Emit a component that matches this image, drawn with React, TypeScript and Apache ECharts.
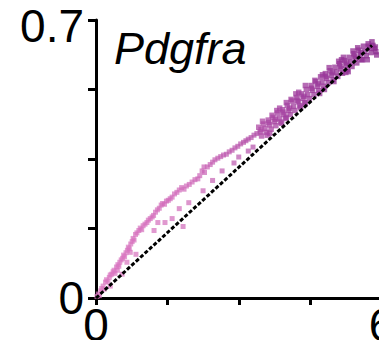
import React, { useEffect, useRef } from "react";
import * as echarts from "echarts";

const title = "Pdgfra";
const xTicks = [0, 6];
const yTicks = [0, 0.7];
const refLine: [number, number][] = [[0, 0], [5.8, 0.636]];

const pinkPoints: [number, number][] = [
  [0.02,0.004],[0.05,0.01],[0.07,0.006],[0.1,0.018],[0.12,0.024],[0.15,0.03],[0.17,0.022],[0.2,0.04],
  [0.22,0.046],[0.25,0.042],[0.28,0.052],[0.3,0.058],[0.33,0.06],[0.36,0.066],[0.38,0.07],[0.4,0.062],
  [0.43,0.078],[0.46,0.084],[0.48,0.08],[0.5,0.09],[0.53,0.096],[0.56,0.1],[0.58,0.108],[0.6,0.104],
  [0.63,0.114],[0.66,0.12],[0.68,0.128],[0.7,0.124],[0.73,0.136],[0.76,0.142],[0.78,0.15],[0.8,0.146],
  [0.83,0.16],[0.86,0.164],[0.9,0.17],[0.93,0.176],[0.96,0.172],[0.99,0.182],
  [0.3,0.03],[0.55,0.06],[0.84,0.11],[0.65,0.09],[0.45,0.07],[0.72,0.115],
  [1.03,0.186],[1.07,0.19],[1.1,0.196],[1.14,0.2],[1.18,0.204],[1.21,0.208],[1.25,0.216],[1.29,0.222],
  [1.33,0.226],[1.37,0.234],[1.4,0.238],[1.44,0.236],[1.48,0.244],[1.52,0.246],[1.56,0.25],[1.6,0.254],
  [1.65,0.262],[1.7,0.266],[1.75,0.272],[1.8,0.278],[1.85,0.274],[1.9,0.282],[1.96,0.286],
  [1.22,0.17],[1.45,0.19],[1.6,0.2],[1.75,0.225],[1.83,0.18],[1.95,0.24],[1.3,0.19],
  [2.02,0.292],[2.08,0.298],[2.14,0.3],[2.18,0.308],[2.23,0.32],[2.28,0.316],[2.34,0.33],[2.4,0.336],
  [2.45,0.342],[2.5,0.348],[2.56,0.352],[2.62,0.356],[2.68,0.36],[2.74,0.362],[2.8,0.368],[2.86,0.372],
  [2.92,0.378],[2.98,0.382],[3.04,0.388],[3.1,0.392],[3.15,0.396],[3.2,0.4],[3.26,0.404],[3.32,0.41],[3.38,0.414],
  [2.25,0.27],[2.27,0.33],[2.45,0.296],[2.65,0.32],[2.9,0.34],[3.0,0.355],[3.2,0.37],[3.3,0.38],
];

const purplePoints: [number, number][] = [
  [3.42,0.43],[3.45,0.418],[3.48,0.408],[3.52,0.438],[3.55,0.427],[3.58,0.417],
  [3.62,0.448],[3.65,0.436],[3.68,0.425],[3.72,0.455],[3.75,0.444],[3.78,0.434],
  [3.82,0.466],[3.85,0.453],[3.88,0.443],[3.92,0.474],[3.95,0.462],[3.98,0.452],
  [4.02,0.485],[4.05,0.472],[4.08,0.462],[4.12,0.496],[4.15,0.483],[4.18,0.472],
  [4.22,0.505],[4.25,0.494],[4.28,0.484],[4.32,0.514],[4.35,0.503],[4.38,0.492],
  [4.42,0.525],[4.45,0.512],[4.48,0.502],[4.52,0.535],[4.55,0.523],[4.58,0.512],
  [4.62,0.545],[4.65,0.533],[4.68,0.522],[4.72,0.557],[4.75,0.544],[4.78,0.533],
  [4.82,0.565],[4.85,0.553],[4.88,0.542],[4.92,0.572],[4.95,0.561],[4.98,0.55],
  [5.02,0.581],[5.05,0.569],[5.08,0.558],[5.12,0.59],[5.15,0.577],[5.18,0.566],
  [5.22,0.598],[5.25,0.586],[5.28,0.575],[5.32,0.606],[5.35,0.594],[5.38,0.583],
  [5.42,0.615],[5.45,0.603],[5.48,0.592],[5.52,0.624],[5.55,0.612],[5.58,0.6],
  [5.62,0.634],[5.65,0.621],[5.68,0.61],[5.72,0.64],[5.75,0.629],[5.78,0.618],
  [5.82,0.636],[5.85,0.628],[5.88,0.62],[5.9,0.612],[5.8,0.645],[5.6,0.6],
  [3.6,0.41],[3.9,0.44],[4.3,0.48],[4.7,0.515],[5.0,0.545],[5.3,0.57],
  [3.7,0.46],[4.1,0.5],[4.6,0.548],[5.1,0.596],[5.5,0.63],
  [3.5,0.445],[3.8,0.472],[4.0,0.492],[4.2,0.514],[4.4,0.535],[4.9,0.58],[5.2,0.606],[5.4,0.622],
  [3.65,0.415],[4.0,0.455],[4.4,0.49],[4.8,0.525],[5.25,0.568],[5.7,0.6],
  [3.47,0.424],[3.63,0.442],[3.77,0.45],[3.93,0.468],[4.07,0.478],[4.23,0.498],[4.37,0.508],
  [4.53,0.528],[4.67,0.539],[4.83,0.558],[4.97,0.567],[5.13,0.583],[5.27,0.592],[5.43,0.609],
  [5.57,0.618],[5.73,0.634],[5.87,0.632],[3.86,0.478],[4.26,0.518],[4.76,0.562],[5.16,0.6],
];

const labelFont = "'Liberation Sans', Arial, sans-serif";

export default function App() {
  const ref = useRef<HTMLDivElement>(null);
  useEffect(() => {
    if (!ref.current) return;
    const chart = echarts.init(ref.current, null, { renderer: "svg" });
    chart.setOption({
      animation: false,
      title: {
        text: title,
        left: 114,
        top: 26,
        padding: 0,
        textStyle: {
          fontStyle: "italic",
          fontWeight: "normal",
          fontSize: 45,
          fontFamily: labelFont,
          color: "#000",
        },
      },
      grid: { left: 96, right: 5.5, top: 20, bottom: 42, containLabel: false, outerBoundsMode: "none" },
      visualMap: {
        show: false,
        type: "continuous",
        dimension: 0,
        seriesIndex: [0, 1],
        min: 0,
        max: 6,
        inRange: { color: ["#dc78c2", "#cf68b8", "#a23f9f", "#8a2a8e"] },
      },
      xAxis: {
        type: "value",
        min: 0,
        max: 6,
        interval: 1.5,
        splitLine: { show: false },
        axisLine: { lineStyle: { color: "#000", width: 3 } },
        axisTick: { length: 7, lineStyle: { color: "#000", width: 3 } },
        axisLabel: {
          margin: 4,
          fontSize: 46,
          fontFamily: labelFont,
          color: "#000",
          formatter: (v: number) => (xTicks.includes(v) ? String(v) : ""),
        },
      },
      yAxis: {
        type: "value",
        min: 0,
        max: 0.7,
        interval: 0.175,
        splitLine: { show: false },
        axisLine: { lineStyle: { color: "#000", width: 3 } },
        axisTick: { length: 8, lineStyle: { color: "#000", width: 3 } },
        axisLabel: {
          margin: 12,
          fontSize: 46,
          fontFamily: labelFont,
          color: "#000",
          formatter: (v: number) => {
            if (Math.abs(v - yTicks[1]) < 1e-9) return "{t|" + yTicks[1] + "}";
            if (Math.abs(v - yTicks[0]) < 1e-9) return "{b|" + yTicks[0] + "}";
            return "";
          },
          rich: {
            t: { fontSize: 46, fontFamily: labelFont, color: "#000", padding: [12, 0, 0, 0] },
            b: { fontSize: 46, fontFamily: labelFont, color: "#000", padding: [0, 0, 0, 0] },
          },
        },
      },
      series: [
        {
          type: "scatter",
          data: pinkPoints,
          symbol: "rect",
          symbolSize: 5,
          itemStyle: { opacity: 0.7 },
        },
        {
          type: "scatter",
          data: purplePoints,
          symbol: "rect",
          symbolSize: 5.5,
          itemStyle: { opacity: 0.75 },
        },
        {
          type: "line",
          data: refLine,
          symbol: "none",
          z: 5,
          lineStyle: { color: "#000", width: 3, type: [4, 2] },
        },
      ],
    });
    return () => chart.dispose();
  }, []);
  return <div ref={ref} style={{ width: 387, height: 340, marginLeft: -8, marginTop: -8 }} />;
}
